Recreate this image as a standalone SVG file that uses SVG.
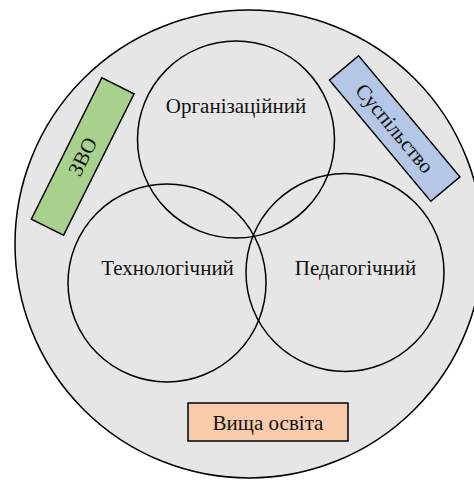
<svg xmlns="http://www.w3.org/2000/svg" width="474" height="480" viewBox="0 0 474 480">
<style>
.ring{fill:none;stroke:#000;stroke-width:1.5}
.lbl{font-family:"Liberation Serif","Times New Roman",serif;font-size:21px;fill:#111;text-anchor:middle}
.box{stroke:#000;stroke-width:1.5}
</style>
<rect width="474" height="480" fill="#fff"/>
<g id="outer">
<circle cx="249" cy="244" r="234" fill="#e7e6e6" stroke="#000" stroke-width="1.5"/>
</g>
<g id="org">
<circle class="ring" cx="236" cy="139.5" r="98.5"/>
<text class="lbl" x="236" y="113">Організаційний</text>
</g>
<g id="tech">
<circle class="ring" cx="167" cy="283" r="99"/>
<text class="lbl" x="167.5" y="275">Технологічний</text>
</g>
<g id="ped">
<circle class="ring" cx="345" cy="272.5" r="99"/>
<text class="lbl" x="355.5" y="275">Педагогічний</text>
</g>
<g id="zvo" transform="translate(82.7 156.5) rotate(-63.5)">
<rect class="box" x="-79" y="-18" width="158" height="36" fill="#a9d18e"/>
<text class="lbl" x="0" y="7">ЗВО</text>
</g>
<g id="susp" transform="translate(394.7 128.5) rotate(50.1)">
<rect class="box" x="-79" y="-19" width="158" height="38" fill="#b4c7e7"/>
<text class="lbl" x="0" y="7">Суспільство</text>
</g>
<g id="vyshcha">
<rect class="box" x="188" y="403" width="160" height="38" fill="#f8cbad"/>
<text class="lbl" x="268" y="430">Вища освіта</text>
</g>
<g id="connectors"/>
</svg>
